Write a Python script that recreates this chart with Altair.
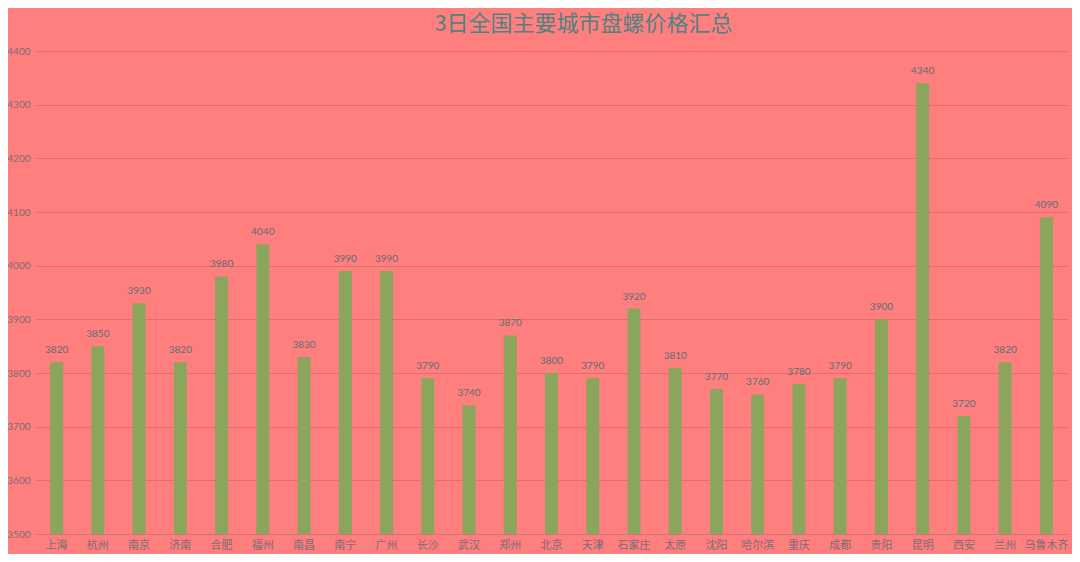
import altair as alt
import pandas as pd

cities = ["上海", "杭州", "南京", "济南", "合肥", "福州", "南昌", "南宁", "广州", "长沙",
          "武汉", "郑州", "北京", "天津", "石家庄", "太原", "沈阳", "哈尔滨", "重庆", "成都",
          "贵阳", "昆明", "西安", "兰州", "乌鲁木齐"]
prices = [3820, 3850, 3930, 3820, 3980, 4040, 3830, 3990, 3990, 3790,
          3740, 3870, 3800, 3790, 3920, 3810, 3770, 3760, 3780, 3790,
          3900, 4340, 3720, 3820, 4090]
y_ticks = [3500, 3600, 3700, 3800, 3900, 4000, 4100, 4200, 4300, 4400]

df = pd.DataFrame({"city": cities, "price": prices})

BG = "#FF7F7F"
BAR = "#8BA65C"
GRID = "#E06E70"
LABEL = "#7E6B74"
VALUE = "#5E6E74"
TITLE = "#4E8383"

x = alt.X("city:N", sort=cities, title=None,
          scale=alt.Scale(paddingInner=0.685, paddingOuter=0.3425),
          axis=alt.Axis(labelAngle=0, labelFont="Noto Sans CJK SC", labelFontSize=11,
                        labelColor=LABEL, labelPadding=5, ticks=False,
                        domainColor="#C8787C", domainWidth=1, grid=False))
y = alt.Y("price:Q", title=None,
          scale=alt.Scale(domain=[3500, 4400], nice=False, zero=False),
          axis=alt.Axis(values=y_ticks, format="d", labelFont="Lato", labelFontSize=10,
                        labelColor=LABEL, labelPadding=6, ticks=False, domain=False,
                        grid=True, gridColor=GRID, gridWidth=1))

bars = alt.Chart(df).mark_bar(color=BAR, clip=True).encode(x=x, y=y)
labels = alt.Chart(df).mark_text(baseline="bottom", dy=-7, font="Lato", fontSize=10,
                                 color=VALUE).encode(x=x, y=y, text=alt.Text("price:Q"))

chart = alt.layer(bars, labels).properties(
    width=1031, height=483,
    padding={"left": 28, "top": 43, "right": 5, "bottom": 20},
    autosize=alt.AutoSizeParams(type="none"),
    background=BG,
    title=alt.TitleParams("3日全国主要城市盘螺价格汇总", anchor="middle", dx=32, offset=10,
                          font="Noto Sans CJK SC", fontSize=22, fontWeight="normal",
                          color=TITLE),
).configure_view(stroke=None, fill=BG)

chart.save("out.html", embed_options={"renderer": "svg", "actions": False})
